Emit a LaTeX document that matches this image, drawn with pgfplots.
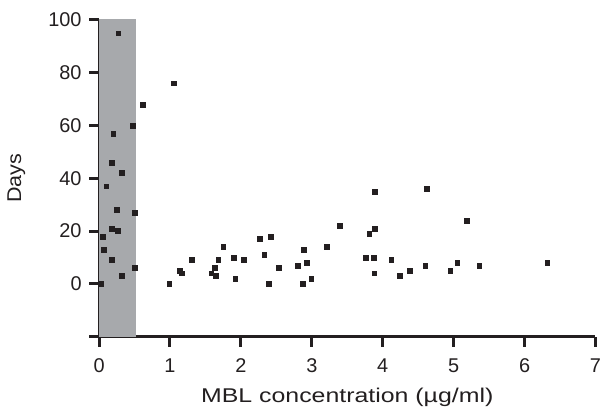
\documentclass[border=0pt]{standalone}
\usepackage{fontspec}
\setmainfont{Liberation Sans}
\usepackage{pgfplots}
\pgfplotsset{compat=1.18}
\definecolor{shade}{RGB}{167,169,172}
\definecolor{mk}{RGB}{35,31,32}
\begin{document}
\begin{tikzpicture}
\begin{axis}[
 scale only axis, width=497bp, height=317bp,
 xmin=0, xmax=7, ymin=-20, ymax=100,
 axis lines=left, axis line style={-, line width=3bp, color=mk},
 xtick={0,...,7}, ytick={-20,0,20,40,60,80,100},
 yticklabels={,0,20,40,60,80,100},
 tick style={line width=3bp, color=mk}, tick align=outside, major tick length=10bp,
 tick label style={font=\fontsize{20}{24}\selectfont, text=mk},
 yticklabel style={xshift=-4bp},
 xticklabel style={yshift=-9bp, inner xsep=1bp},
 label style={font=\fontsize{20}{24}\selectfont, text=mk},
 xlabel={\scalebox{1.25}[1]{MBL concentration (µg/ml)}},
 ylabel={\scalebox{1.08}[1]{Days}},
 xlabel style={at={(axis description cs:0.5,-0.2082)}, anchor=base, inner sep=4bp},
 ylabel style={at={(axis description cs:-0.1569,0.5)}, anchor=base, inner sep=7.5bp},
 /pgf/number format/assume math mode=true,
 clip=false,
]
\addplot[fill=shade, draw=none] coordinates {(0,-20) (0.52,-20) (0.52,100.5) (0,100.5)} -- cycle;
\addplot[only marks, mark=square*, mark size=2.4pt, color=mk] coordinates {
(0.27,95) (1.05,76) (0.62,68) (0.47,60) (0.20,57) (0.18,46) (0.32,42) (0.10,37)
(0.25,28) (0.50,27) (0.18,21) (0.26,20) (0.05,18) (0.06,13) (0.18,9) (0.50,6)
(0.32,3) (0.03,0) (0.99,0) (1.14,5) (1.17,4) (1.31,9) (1.75,14) (1.68,9)
(1.90,10) (2.04,9) (1.63,6) (1.58,4) (1.65,3) (1.92,2) (2.26,17) (2.42,18)
(2.33,11) (2.53,6) (2.39,0) (2.89,13) (2.80,7) (2.93,8) (2.99,2) (2.87,0)
(3.21,14) (3.39,22) (3.89,35) (4.62,36) (3.89,21) (3.81,19) (3.76,10) (3.87,10)
(3.88,4) (4.12,9) (4.24,3) (4.38,5) (4.60,7) (5.18,24) (5.05,8) (4.95,5)
(5.36,7) (6.32,8)
};
\path (rel axis cs:0,1) -- ++(0bp,20bp);
\end{axis}
\end{tikzpicture}
\end{document}
